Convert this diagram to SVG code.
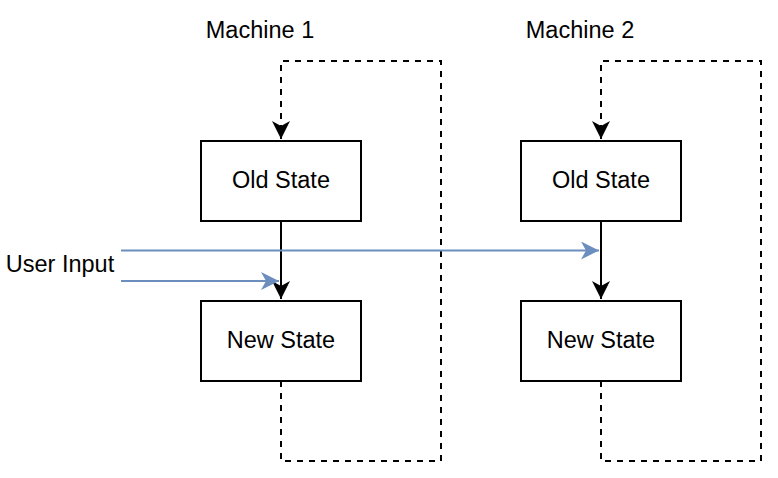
<svg xmlns="http://www.w3.org/2000/svg" width="778" height="478" viewBox="0 0 778 478">
<style>
  .box{fill:#ffffff;stroke:#000000;stroke-width:2}
  .lbl{font-family:"Liberation Sans",Arial,sans-serif;font-size:23.5px;fill:#000000;text-anchor:middle}
  .solid{fill:none;stroke:#000000;stroke-width:2}
  .dash{fill:none;stroke:#000000;stroke-width:2;stroke-dasharray:6 6}
  .blue{fill:none;stroke:#6c8ebf;stroke-width:2}
</style>
<defs>
  <marker id="ab" markerUnits="userSpaceOnUse" markerWidth="20" markerHeight="20" viewBox="0 0 20 20" refX="18" refY="9" orient="auto">
    <path d="M0,0 L18,9 L0,18 L5,9 Z" fill="#000000"/>
  </marker>
  <marker id="ablue" markerUnits="userSpaceOnUse" markerWidth="20" markerHeight="20" viewBox="0 0 20 20" refX="18" refY="9" orient="auto">
    <path d="M0,0 L18,9 L0,18 L5,9 Z" fill="#6c8ebf"/>
  </marker>
</defs>
<rect width="778" height="478" fill="#ffffff"/>
<g id="connectors">
  <path class="dash" d="M281,381 L281,461 L441,461 L441,61 L281,61 L281,139" marker-end="url(#ab)"/>
  <path class="dash" d="M601,381 L601,461 L761,461 L761,61 L601,61 L601,139" marker-end="url(#ab)"/>
  <path class="solid" d="M281,221 L281,299" marker-end="url(#ab)"/>
  <path class="solid" d="M601,221 L601,299" marker-end="url(#ab)"/>
  <path class="blue" d="M121,250.5 L599,250.5" marker-end="url(#ablue)"/>
  <path class="blue" d="M121,281 L279,281" marker-end="url(#ablue)"/>
</g>
<g id="machine1-label"><text class="lbl" x="260" y="38">Machine 1</text></g>
<g id="machine2-label"><text class="lbl" x="580" y="38">Machine 2</text></g>
<g id="user-input"><text class="lbl" x="60" y="272">User Input</text></g>
<g id="old-state-1"><rect class="box" x="201" y="141" width="160" height="80"/><text class="lbl" x="281" y="188">Old State</text></g>
<g id="new-state-1"><rect class="box" x="201" y="301" width="160" height="80"/><text class="lbl" x="281" y="348">New State</text></g>
<g id="old-state-2"><rect class="box" x="521" y="141" width="160" height="80"/><text class="lbl" x="601" y="188">Old State</text></g>
<g id="new-state-2"><rect class="box" x="521" y="301" width="160" height="80"/><text class="lbl" x="601" y="348">New State</text></g>
</svg>
